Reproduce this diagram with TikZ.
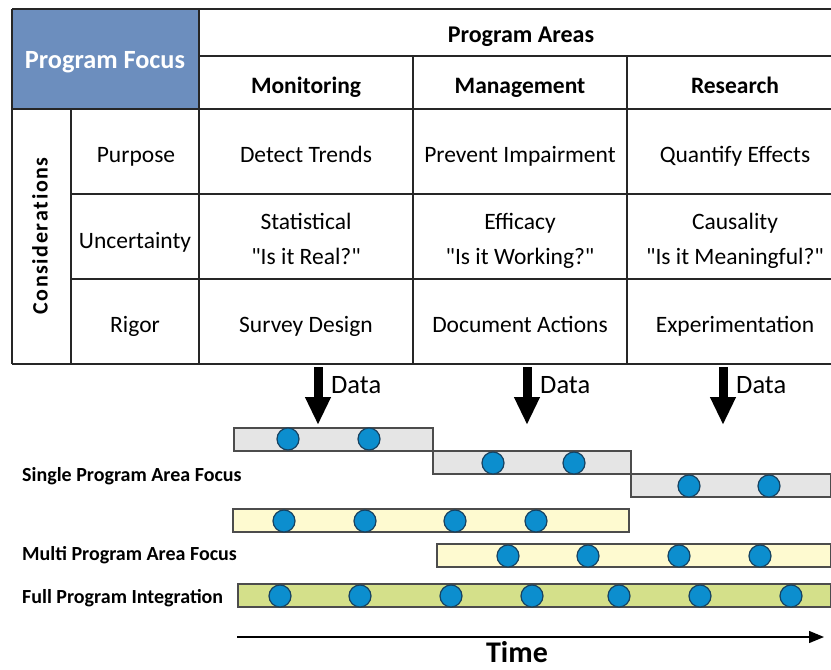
\documentclass[tikz,border=0pt]{standalone}
\usepackage{fontspec}
\setmainfont{Carlito}
\usetikzlibrary{arrows.meta}
\usetikzlibrary{positioning}
\definecolor{mblue}{RGB}{108,142,190}
\definecolor{mgray}{RGB}{229,229,229}
\definecolor{myellow}{RGB}{254,250,208}
\definecolor{mgreen}{RGB}{212,224,138}
\definecolor{mdot}{RGB}{12,142,206}
\definecolor{mdotline}{RGB}{24,66,96}
\newcommand{\qt}[1]{\textquotedbl#1\textquotedbl}
\tikzset{dot/.style = {draw=mdotline, fill=mdot, circle, inner sep = 0, minimum size = 22, line width = 1.2}}
\tikzset{bar/.style = {draw=black!70, line width = 1.4}}
\tikzset{grid/.style = {line width = 1.4, draw=black!85}}
\tikzset{cell/.style = {font=\fontsize{23.5}{28}\selectfont, anchor=base, inner sep = 0}}
\tikzset{head/.style = {font=\bfseries\fontsize{23.5}{28}\selectfont, anchor=base, inner sep = 0}}
\tikzset{rowlab/.style = {font=\bfseries\fontsize{20}{24}\selectfont, anchor=base west, inner sep = 0}}
\tikzset{datarrow/.style = {line width = 9pt, -{Triangle[width=24pt, length=28pt]}}}

\begin{document}
\begin{tikzpicture}[x=1pt, y=-1pt]
  \useasboundingbox (0, 0) rectangle (831, 670);

  % table
  \fill [mblue] (12, 9) rectangle (199, 109);
  \draw [grid] (12, 9) -- (831, 9);
  \draw [grid] (199, 56) -- (831, 56);
  \draw [grid] (12, 109) -- (831, 109);
  \draw [grid] (71, 194) -- (831, 194);
  \draw [grid] (71, 279) -- (831, 279);
  \draw [grid] (12, 364) -- (831, 364);
  \draw [grid] (12, 9) -- (12, 364);
  \draw [grid] (71, 109) -- (71, 364);
  \draw [grid] (199, 9) -- (199, 364);
  \draw [grid] (413, 56) -- (413, 364);
  \draw [grid] (627, 56) -- (627, 364);

  \node [head, text=white, font=\bfseries\fontsize{26.3}{30}\selectfont] (focus) at (105, 68) {Program Focus};
  \node [head, font=\bfseries\fontsize{24}{28}\selectfont] (areas) at (521, 42) {Program Areas};
  \node [head] (mon) at (306, 93) {Monitoring};
  \node [head] (man) at (520, 93) {Management};
  \node [head] (res) at (735, 93) {Research};

  \node [rotate=90, font=\bfseries\fontsize{22}{26}\selectfont, inner sep = 0] (cons) at (40, 236)
    {C\kern1.6pt o\kern1.6pt n\kern1.6pt s\kern1.6pt i\kern1.6pt d\kern1.6pt e\kern1.6pt r\kern1.6pt a\kern1.6pt t\kern1.6pt i\kern1.6pt o\kern1.6pt n\kern1.6pt s};
  \node [cell] (purp) at (136, 162) {Purpose};
  \node [cell] (unc) at (135, 248) {Uncertainty};
  \node [cell] (rig) at (135, 332) {Rigor};

  \node [cell] (c11) at (306, 162) {Detect Trends};
  \node [cell] (c12) at (520, 162) {Prevent Impairment};
  \node [cell] (c13) at (735, 162) {Quantify Effects};
  \node [cell] (c21) at (306, 229) {Statistical};
  \node [cell] (c21q) at (306, 264) {\qt{Is it Real?}};
  \node [cell] (c22) at (520, 229) {Efficacy};
  \node [cell] (c22q) at (520, 264) {\qt{Is it Working?}};
  \node [cell] (c23) at (735, 229) {Causality};
  \node [cell] (c23q) at (735, 264) {\qt{Is it Meaningful?}};
  \node [cell] (c31) at (306, 332) {Survey Design};
  \node [cell] (c32) at (520, 332) {Document Actions};
  \node [cell] (c33) at (735, 332) {Experimentation};

  % data arrows
  \foreach \x/\n in {318/1, 527/2, 723/3} {
    \coordinate (dtop\n) at (\x, 367);
    \coordinate (dbot\n) at (\x, 425);
    \draw [datarrow] (dtop\n) -- (dbot\n);
    \node [anchor=base west, font=\fontsize{26.5}{30}\selectfont, inner sep = 0] (data\n) at (\x + 13, 393) {Data};
  }

  % single program area
  \draw [bar, fill=mgray] (234, 428) rectangle (433, 451);
  \draw [bar, fill=mgray] (433, 451) rectangle (631, 474);
  \draw [bar, fill=mgray] (631, 474) rectangle (831, 497);
  \foreach \x [count=\i] in {288, 369} {
    \node [dot] (sa\i) at (\x, 439) {};
  }
  \foreach \x [count=\i] in {493, 574} {
    \node [dot] (sb\i) at (\x, 463) {};
  }
  \foreach \x [count=\i] in {689, 769} {
    \node [dot] (sc\i) at (\x, 486) {};
  }
  \node [rowlab] (single) at (22, 481) {Single Program Area Focus};

  % multi program area
  \draw [bar, fill=myellow] (233, 509) rectangle (629, 532);
  \draw [bar, fill=myellow] (437, 544) rectangle (831, 567);
  \foreach \x [count=\i] in {284, 365, 455, 536} {
    \node [dot] (ma\i) at (\x, 521) {};
  }
  \foreach \x [count=\i] in {508, 588, 679, 760} {
    \node [dot] (mb\i) at (\x, 556) {};
  }
  \node [rowlab] (multi) at (22, 560) {Multi Program Area Focus};

  % full integration
  \draw [bar, fill=mgreen] (238, 584) rectangle (831, 607);
  \foreach \x [count=\i] in {280, 360, 451, 532, 619, 700, 791} {
    \node [dot] (f\i) at (\x, 596) {};
  }
  \node [rowlab] (full) at (22, 603) {Full Program Integration};

  % time axis
  \coordinate (t0) at (237, 637);
  \coordinate (t1) at (824, 637);
  \draw [line width = 1.3, -{Triangle[width=12pt, length=15pt]}] (t0) -- (t1);
  \node [font=\bfseries\fontsize{30}{34}\selectfont, anchor=base, inner sep = 0] (time) at (517, 662) {Time};
\end{tikzpicture}
\end{document}
